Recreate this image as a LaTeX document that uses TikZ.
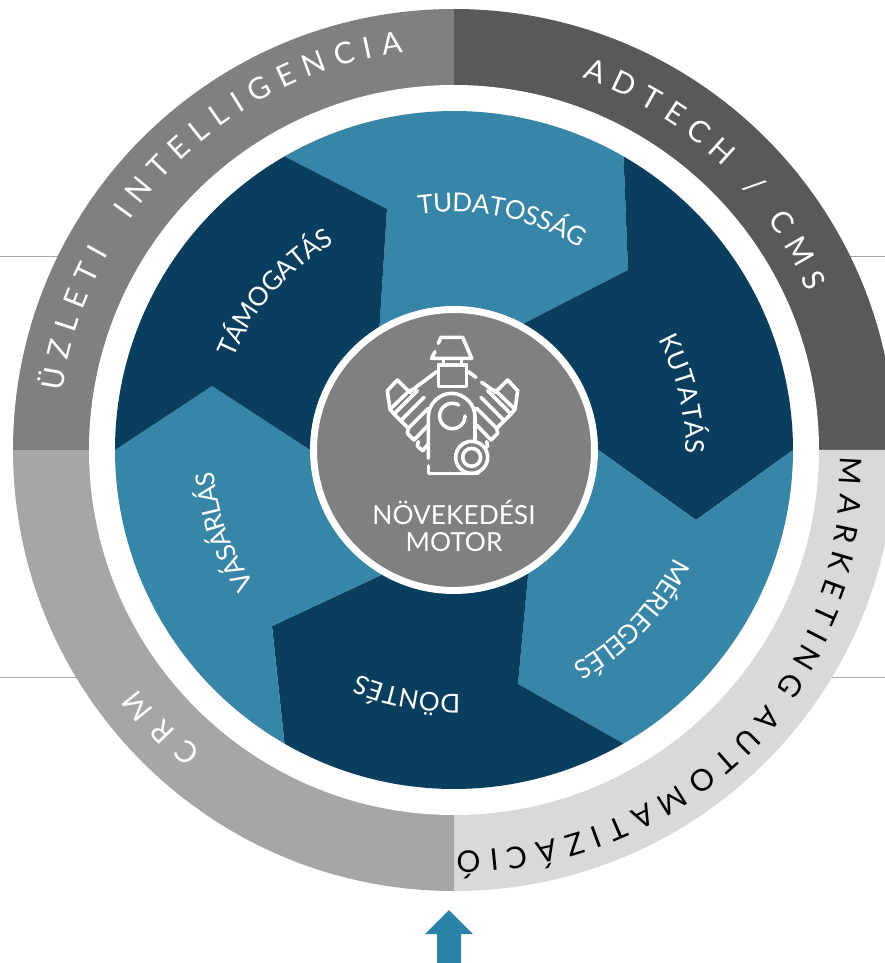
\documentclass[tikz,border=0pt]{standalone}
\usepackage{fontspec}
\setmainfont{Lato}
\usetikzlibrary{calc}
\definecolor{lightblue}{HTML}{3785A7}
\definecolor{darkblue}{HTML}{093E5E}
\definecolor{arrowblue}{HTML}{2A82A8}
\definecolor{ringA}{HTML}{808080}
\definecolor{ringB}{HTML}{595959}
\definecolor{ringC}{HTML}{D9D9D9}
\definecolor{ringD}{HTML}{A6A6A6}
\newlength{\lenW}
\newlength{\lenB}
\newcount\nLetter
\newcount\nAll
% #1 colour, #2 font size, #3 start angle, #4 end angle, #5 start baseline radius, #6 end baseline radius, #7 letters
\newcommand{\ringtext}[7]{%
  \font\rawf="Lato" at #2pt\relax
  \global\lenW=0pt \global\nLetter=0
  \foreach \c in {#7}{%
    \setbox0=\hbox{\rawf\c}%
    \global\advance\lenW by \wd0
    \global\advance\nLetter by 1
  }%
  \pgfmathsetmacro{\rmid}{(#5+#6)/2}%
  \pgfmathsetmacro{\sumw}{\lenW/1pt}%
  \pgfmathsetmacro{\track}{(abs(#3-#4)/57.29578*\rmid-\sumw)/(\the\nLetter-1)}%
  \xdef\curang{#3}%
  \foreach \c in {#7}{%
    \global\advance\nAll by 1
    \setbox0=\hbox{\rawf\c}%
    \lenB=\wd0\relax
    \pgfmathsetmacro{\w}{\lenB/1pt}%
    \pgfmathsetmacro{\fr}{(#3-\curang)/(#3-#4)}%
    \pgfmathsetmacro{\rr}{#5+(#6-#5)*\fr}%
    \pgfmathsetmacro{\ang}{\curang-(\w/2)/\rr*57.29578}%
    \node[anchor=base,inner sep=0pt,text=#1,rotate=\ang-90] (letter\the\nAll) at (\ang:\rr) {\fontsize{#2}{#2}\selectfont\c};
    \pgfmathsetmacro{\nx}{\curang-(\w+\track)/\rr*57.29578}%
    \xdef\curang{\nx}%
  }%
}
\tikzset{
  enginestroke/.style={draw=white,line width=3.6pt,line cap=round,line join=round},
  sector/.style={draw=none},
  guide/.style={draw=ringD,line width=1pt}
}
\begin{document}
\begin{tikzpicture}[x=1pt,y=1pt]
\useasboundingbox (-454,-513) rectangle (431,450);
\fill[white] (-454,-513) rectangle (431,450);
\begin{scope}
\clip (-454,-513) rectangle (431,450);
% guide lines
\coordinate (gla) at (-454,193); \coordinate (gra) at (431,193);
\coordinate (glb) at (-454,-227); \coordinate (grb) at (431,-227);
\draw[guide] (gla) -- (gra);
\draw[guide] (glb) -- (grb);
% outer ring
\fill[ringB] (0,0) -- (0,441) arc[start angle=90,end angle=0,radius=441] -- cycle;
\fill[ringC] (0,0) -- (441,0) arc[start angle=0,end angle=-90,radius=441] -- cycle;
\fill[ringD] (0,0) -- (0,-441) arc[start angle=-90,end angle=-180,radius=441] -- cycle;
\fill[ringA] (0,0) -- (-441,0) arc[start angle=180,end angle=90,radius=441] -- cycle;
\fill[white] (0,0) circle[radius=365];
\end{scope}
% sectors
\def\Rd{339}
\coordinate (a) at (-67,241); \coordinate (b) at (174,180); \coordinate (c) at (63,123);
\coordinate (d) at (-75,115); \coordinate (e) at (242,-70); \coordinate (f) at (136,6);
\coordinate (g) at (64,-234); \coordinate (h) at (75,-115); \coordinate (i) at (-182,-176);
\coordinate (j) at (-62,-120); \coordinate (k) at (-242,64); \coordinate (l) at (-136,-5);
\fill[lightblue,sector] (120:\Rd) arc[start angle=120,end angle=60,radius=\Rd] -- (b) -- (c) -- (d) -- (a) -- cycle;
\fill[darkblue,sector] (60:\Rd) arc[start angle=60,end angle=0,radius=\Rd] -- (e) -- (f) -- (c) -- (b) -- cycle;
\fill[lightblue,sector] (0:\Rd) arc[start angle=0,end angle=-60,radius=\Rd] -- (g) -- (h) -- (f) -- (e) -- cycle;
\fill[darkblue,sector] (-60:\Rd) arc[start angle=-60,end angle=-120,radius=\Rd] -- (i) -- (j) -- (h) -- (g) -- cycle;
\fill[lightblue,sector] (-120:\Rd) arc[start angle=-120,end angle=-180,radius=\Rd] -- (k) -- (l) -- (j) -- (i) -- cycle;
\fill[darkblue,sector] (180:\Rd) arc[start angle=180,end angle=120,radius=\Rd] -- (a) -- (d) -- (l) -- (k) -- cycle;
% hub
\node[circle,fill=ringA,draw=white,line width=7pt,minimum size=281pt,inner sep=0pt] (hub) at (0,0) {};
% ring texts
\ringtext{white}{30}{171.5}{97.3}{396}{401}{Ü,Z,L,E,T,I,{\kern20pt},I,N,T,E,L,L,I,G,E,N,C,I,A}
\ringtext{white}{30}{71}{24}{394}{387}{A,D,T,E,C,H,{\kern8pt},/,{\kern8pt},C,M,S}
\ringtext{black}{30}{-1}{-36.5}{386}{402}{M,A,R,K,E,T,I,N,G}
\ringtext{black}{30}{-39.1}{-89.7}{403}{401}{A,U,T,O,M,A,T,I,Z,Á,C,I,Ó}
\ringtext{white}{30}{230}{217}{393}{398}{C,R,M}
% sector labels
\ringtext{white}{26}{98.5}{58}{238}{238}{T,U,D,A,T,O,S,S,Á,G}
\ringtext{white}{26}{28.5}{-1}{232}{232}{K,U,T,A,T,Á,S}
\ringtext{white}{26}{-26}{-61}{245}{245}{M,É,R,L,E,G,E,L,É,S}
\ringtext{white}{26}{-88.5}{-113}{244}{244}{D,Ö,N,T,É,S}
\ringtext{white}{26}{214}{185}{241}{241}{V,Á,S,Á,R,L,Á,S}
\ringtext{white}{26}{157.5}{120}{239}{239}{T,Á,M,O,G,A,T,Á,S}
% hub label
\node[text=white,font=\fontsize{26.3}{27}\selectfont,align=center,inner sep=0pt] (hublabel) at (0,-76) {NÖVEKEDÉSI\\MOTOR};
% engine icon, coordinates of the crop
\begin{scope}[shift={(-94,130)},x=0.33333pt,y=-0.33333pt]
\draw[enginestroke] (235,70) -- (243,52) -- (308,52) -- (335,115) -- (215,115) -- (225,95);
\draw[enginestroke] (250,115) -- (250,135) (305,115) -- (305,135);
\draw[enginestroke] (235,135) rectangle (320,200);
\draw[enginestroke] (230,155) -- (150,215);
\draw[enginestroke] (325,155) -- (348,172) (365,187) -- (405,215);
\foreach \m/\o in {0/1,1/-1}{
\begin{scope}[shift={(\m*555,0)},xscale=\o]
\draw[enginestroke] (150,218) -- (112,180) -- (82,212) -- (90,268);
\draw[enginestroke] (90,268) -- (102,282) -- (172,212);
\draw[enginestroke] (90,268) -- (150,210);
\draw[enginestroke] (102,282) -- (122,302) -- (192,232);
\draw[enginestroke] (122,302) -- (145,325) -- (205,265);
\draw[enginestroke] (145,325) -- (142,340) -- (162,360) -- (205,315);
\draw[enginestroke] (175,365) -- (172,378) -- (188,392) -- (205,372);
\end{scope}
}
\draw[enginestroke] (205,415) -- (205,290) .. controls (205,250) and (240,220) .. (275,220) .. controls (310,220) and (345,250) .. (345,290) -- (345,368);
\draw[enginestroke] (205,438) -- (205,460) -- (355,460);
\draw[enginestroke] plot[domain=0:300,samples=40] ({277+38*cos(\x)},{288+38*sin(\x)});
\fill[ringA] (335,412) circle[radius=48];
\draw[enginestroke] (335,412) circle[radius=48];
\draw[enginestroke] (335,412) circle[radius=27];
\end{scope}
% arrow
\coordinate (art) at (-5,-460);
\fill[arrowblue] (-17,-513) -- (-17,-484) -- (-29,-484) -- (art) -- (19,-484) -- (7,-484) -- (7,-513) -- cycle;
\end{tikzpicture}
\end{document}
